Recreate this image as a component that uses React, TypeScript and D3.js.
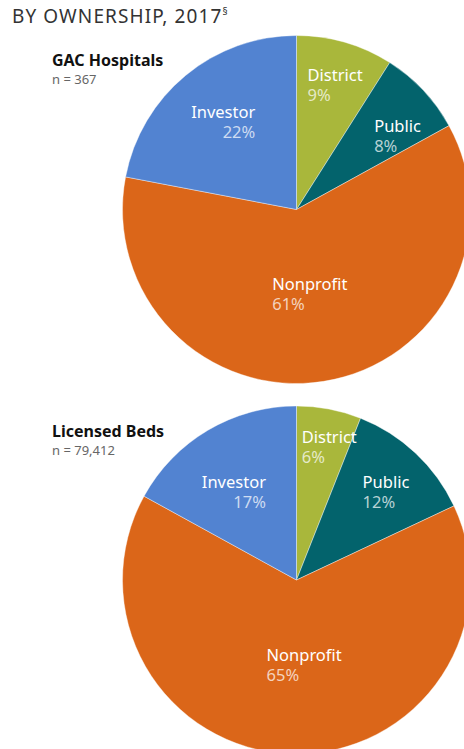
import { useEffect, useRef } from "react";
import * as d3 from "d3";

// ---- data ----
const categories = ["District", "Public", "Nonprofit", "Investor"];
const hospitalShares = [9, 8, 61, 22];
const bedShares = [6, 12, 65, 17];
const chartTitles = ["GAC Hospitals", "Licensed Beds"];
const chartCounts = ["n = 367", "n = 79,412"];

// ---- styling ----
const COLORS = ["#a9b73b", "#03636c", "#db6619", "#5283d1"];
// label placement per chart: [radius as fraction of pie radius, angle shift in degrees]
const LABEL_PLACE = [
  [[0.75, 1], [0.72, 7], [0.49, 0], [0.66, 0]],
  [[0.79, 3], [0.725, 2], [0.485, -7], [0.625, -4.5]],
];
const LABEL_ANCHOR = ["start", "start", "start", "end"];
const FONT = "'Noto Sans', 'Open Sans', sans-serif";

const W = 464;
const H = 749;
const R = 174;
const CX = 296.5;
const CENTERS_Y = [209.5, 580];

export default function App() {
  const ref = useRef<HTMLDivElement>(null);

  useEffect(() => {
    document.body.style.margin = "0";
    const root = d3.select(ref.current);
    root.selectAll("*").remove();

    const svg = root
      .append("svg")
      .attr("width", W)
      .attr("height", H)
      .style("display", "block")
      .style("font-family", FONT);

    // header
    const head = svg
      .append("text")
      .attr("x", 12)
      .attr("y", 23)
      .attr("fill", "#333")
      .attr("font-size", 19)
      .attr("letter-spacing", 1.1)
      .text("BY OWNERSHIP, 2017");
    head
      .append("tspan")
      .attr("font-size", 10)
      .attr("dy", -8)
      .text("§");

    const pie = d3
      .pie<number>()
      .sort(null)
      .value((d) => d);

    const arc = d3
      .arc<d3.PieArcDatum<number>>()
      .innerRadius(0)
      .outerRadius(R);

    [hospitalShares, bedShares].forEach((values, ci) => {
      const cy = CENTERS_Y[ci];

      svg
        .append("text")
        .attr("x", 52)
        .attr("y", cy - 143.5)
        .attr("font-size", 16)
        .attr("font-weight", 700)
        .attr("fill", "#111")
        .text(chartTitles[ci]);
      svg
        .append("text")
        .attr("x", 52)
        .attr("y", cy - 125.5)
        .attr("font-size", 13)
        .attr("fill", "#666")
        .text(chartCounts[ci]);

      const g = svg.append("g").attr("transform", `translate(${CX},${cy})`);
      const slices = pie(values);

      g.selectAll("path")
        .data(slices)
        .enter()
        .append("path")
        .attr("d", arc)
        .attr("fill", (_, i) => COLORS[i])
        .attr("stroke", "#fff")
        .attr("stroke-width", 0.4);

      slices.forEach((s, i) => {
        const [frac, shift] = LABEL_PLACE[ci][i];
        const lr = R * frac;
        const d = (shift * Math.PI) / 180;
        const [lx, ly] = d3
          .arc<d3.PieArcDatum<number>>()
          .innerRadius(lr)
          .outerRadius(lr)
          .centroid({ ...s, startAngle: s.startAngle + d, endAngle: s.endAngle + d });
        const lab = g.append("g");
        const t = lab
          .append("text")
          .attr("text-anchor", LABEL_ANCHOR[i])
          .attr("font-size", 16.5);
        t.append("tspan").attr("x", 0).attr("y", 0).attr("fill", "#fff").text(categories[i]);
        t.append("tspan")
          .attr("x", 0)
          .attr("y", 20)
          .attr("fill", "#fff")
          .attr("fill-opacity", 0.72)
          .text(`${values[i]}%`);
        const bb = (lab.node() as SVGGElement).getBBox();
        lab.attr(
          "transform",
          `translate(${lx - (bb.x + bb.width / 2)},${ly - (bb.y + bb.height / 2)})`
        );
      });
    });
  }, []);

  return <div ref={ref} />;
}
